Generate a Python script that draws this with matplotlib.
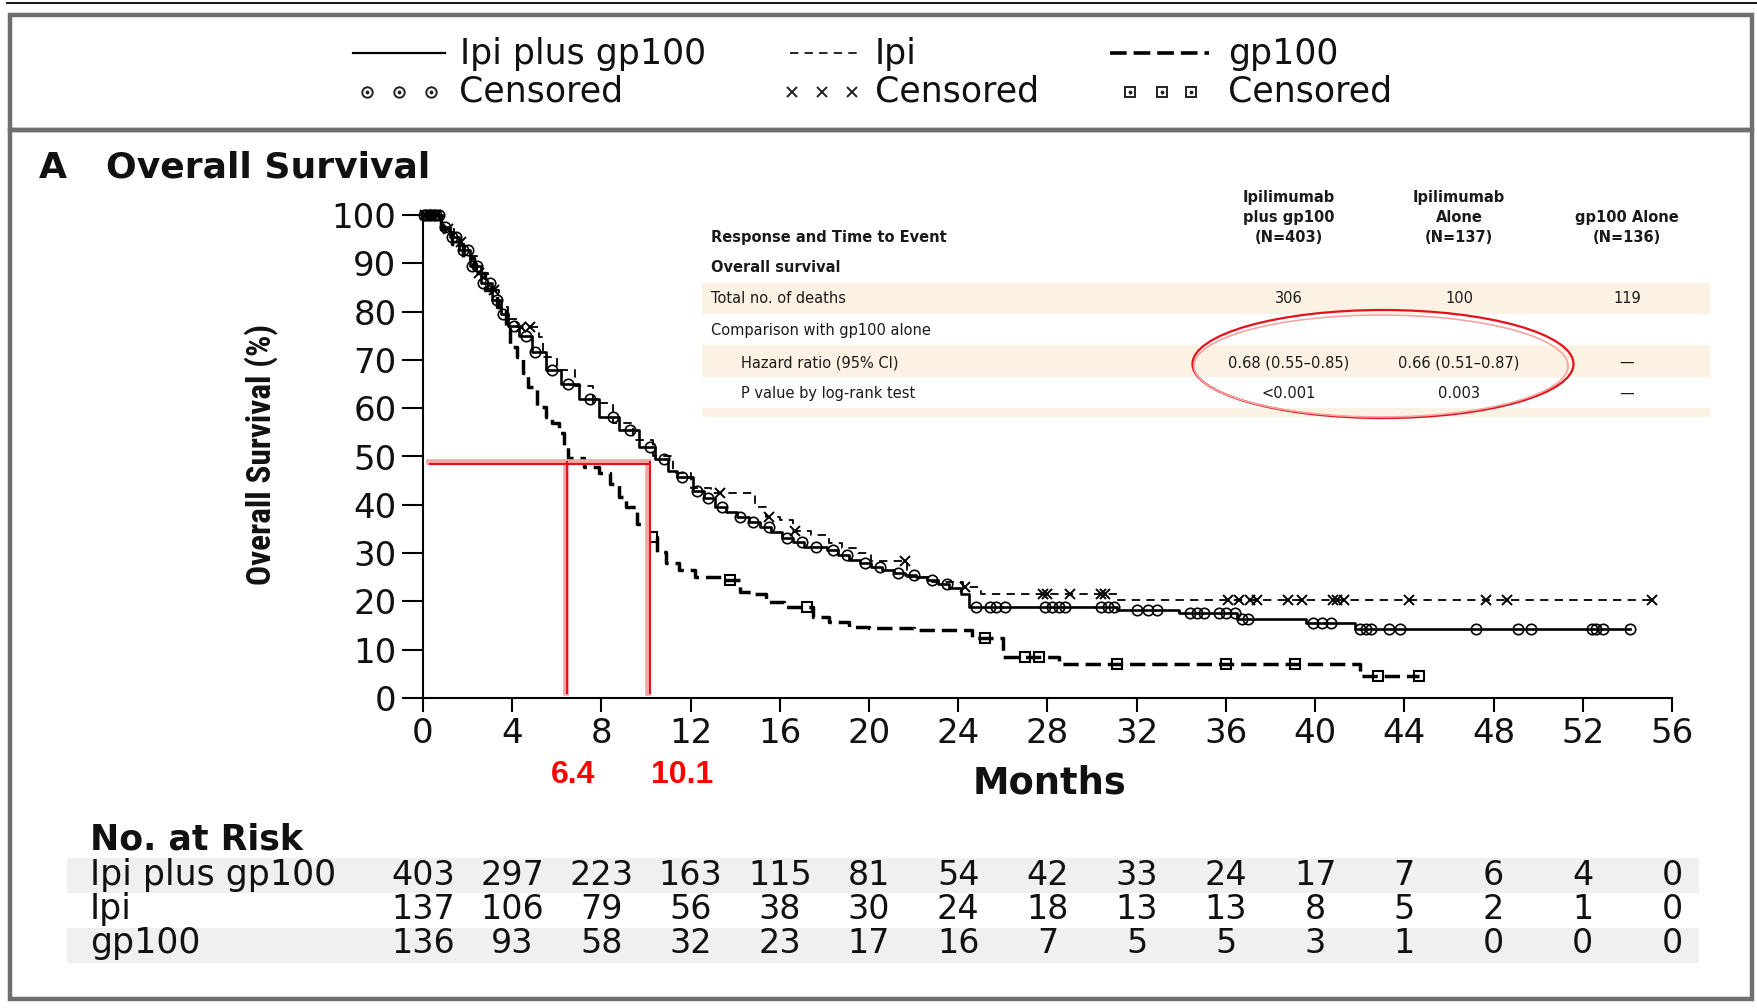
import numpy as np
import matplotlib
matplotlib.use("Agg")
import matplotlib.pyplot as plt
from matplotlib import font_manager, transforms
from matplotlib.lines import Line2D
from matplotlib.patches import Rectangle, Ellipse

W, H = 1758, 1008
plt.rcParams['lines.scale_dashes'] = False
plt.rcParams['font.family'] = 'DejaVu Sans'

# Kaplan-Meier steps: month where each level starts, survival (%) from there on
ipi_gp100_t = [0, 0.8, 1.2, 1.6, 2.1, 2.6, 3.1, 3.5, 3.8, 4.3, 4.9, 5.5, 6.2, 7.0, 7.9,
               8.8, 9.7, 10.4, 11.0, 11.4, 12.1, 12.6, 13.1, 13.6, 14.1, 14.6, 15.1,
               15.6, 16.1, 16.6, 17.1, 18.1, 18.6, 19.1, 19.6, 20.1, 20.6, 21.1, 21.6,
               22.1, 22.6, 23.1, 23.6, 24.1, 24.5, 31.1, 33.9, 36.5, 39.6, 41.8]
ipi_gp100_s = [100, 97.5, 95.5, 92.8, 89.5, 86, 82.5, 79.5, 77, 75, 71.7, 68, 65, 62, 58.2,
               55.5, 52, 49.5, 47, 45.8, 42.8, 41.5, 39.6, 38.5, 37.5, 36.5, 35.5,
               34.3, 33.1, 32.2, 31.3, 30.6, 29.6, 28.6, 27.9, 27.2, 26.5, 25.8, 25.4,
               25.1, 24.4, 23.7, 22.8, 21.6, 18.9, 18.2, 17.7, 16.4, 15.6, 14.2]
ipi_gp100_end = 54.1
ipi_gp100_cens = [0.05, 0.15, 0.25, 0.35, 0.5, 0.6, 0.7, 1.0, 1.3, 1.5, 1.8, 2.0, 2.2, 2.4,
                  2.7, 3.0, 3.3, 3.6, 4.1, 4.6, 5.0, 5.8, 6.5, 7.5, 8.5, 9.3, 10.2, 10.8,
                  11.6, 12.3, 12.8, 13.4, 14.2, 14.8, 15.5, 16.3, 17.0, 17.6, 18.4, 19.0,
                  19.8, 20.5, 21.3, 22.0, 22.8, 23.5, 24.8, 25.4, 25.7, 26.1, 27.9, 28.2,
                  28.5, 28.8, 30.4, 30.7, 31.0, 32.0, 32.5, 32.9, 34.4, 34.7, 35.0, 35.7,
                  36.0, 36.4, 36.7, 37.0, 39.9, 40.3, 40.7, 42.0, 42.3, 42.5, 43.3, 43.8,
                  47.2, 49.1, 49.7, 52.4, 52.6, 52.9, 54.1]

ipi_t = [0, 0.9, 1.4, 1.9, 2.4, 2.9, 3.4, 3.8, 4.2, 5.2, 5.4, 6.0, 6.8, 7.6, 8.5, 9.4,
         10.3, 11.2, 12.0, 12.9, 14.9, 15.4, 16.0, 16.6, 17.4, 18.2, 18.8, 19.5, 20.1,
         21.7, 22.8, 24.2, 25.0, 31.1]
ipi_s = [100, 97, 94.5, 91.5, 88, 84.5, 81, 78.5, 76.9, 74.8, 70.5, 68.0, 64.5, 61, 57,
         53.5, 50, 46.5, 43.5, 42.4, 39.6, 37.5, 36.9, 34.5, 33.8, 32.0, 31, 30, 28.3,
         25.1, 24.0, 23.0, 21.6, 20.3]
ipi_end = 55.1
ipi_cens = [0.1, 0.3, 0.6, 1.1, 1.7, 2.5, 3.2, 4.4, 4.8, 13.3, 15.5, 16.7, 21.6, 24.3,
            27.8, 28.0, 29.0, 30.4, 30.6, 36.1, 36.6, 37.1, 37.4, 38.8, 39.4, 40.8,
            41.0, 41.3, 44.2, 47.65, 48.6, 55.1]

gp100_t = [0, 0.8, 1.3, 1.8, 2.3, 2.8, 3.3, 3.7, 3.9, 4.2, 4.5, 4.7, 5.1, 5.5, 5.8, 6.1,
           6.3, 6.5, 7.2, 7.9, 8.4, 8.8, 9.1, 9.6, 10.1, 10.5, 10.9, 11.5, 12.2, 13.5,
           14.2, 14.8, 15.4, 16.2, 17.5, 18.2, 19.1, 20.0, 22.0, 24.6, 26.0, 28.5, 42.0]
gp100_s = [100, 97, 94, 91, 88, 84.5, 81, 76.5, 72.7, 70.7, 67.2, 64.4, 60.3, 58.2, 56.9,
           54.8, 52.0, 49.6, 47.9, 46.5, 44.4, 41.7, 39.6, 36.1, 33.4, 30.3, 27.9, 26.5,
           25.1, 24.4, 22.0, 21.6, 19.9, 18.9, 16.8, 15.8, 14.8, 14.4, 14.0, 12.4, 8.5,
           7.1, 4.55]
gp100_end = 44.65
gp100_cens = [10.26, 13.77, 17.2, 25.2, 27.0, 27.6, 31.1, 36.0, 39.1, 42.8, 44.65]

# median survival marked in red
median_gp100 = 6.4
median_ipi_gp100 = 10.1
median_level = 48.8

# number at risk
risk_months = list(range(0, 57, 4))
risk_ipi_gp100 = [403, 297, 223, 163, 115, 81, 54, 42, 33, 24, 17, 7, 6, 4, 0]
risk_ipi = [137, 106, 79, 56, 38, 30, 24, 18, 13, 13, 8, 5, 2, 1, 0]
risk_gp100 = [136, 93, 58, 32, 23, 17, 16, 7, 5, 5, 3, 1, 0, 0, 0]
risk_rows = ["Ipi plus gp100", "Ipi", "gp100"]

# inset table
col_heads = [["Ipilimumab", "plus gp100", "(N=403)"],
             ["Ipilimumab", "Alone", "(N=137)"],
             ["gp100 Alone", "(N=136)"]]
deaths = ["306", "100", "119"]
hazard = ["0.68 (0.55–0.85)", "0.66 (0.51–0.87)", "—"]
pvalue = ["<0.001", "0.003", "—"]


def fx(px):
    return px / W


def fy(py):
    return 1 - py / H


def level(t, s, when):
    idx = np.searchsorted(t, when, side='right') - 1
    return np.asarray(s)[idx]


installed = {f.name for f in font_manager.fontManager.ttflist}
narrow = next((f for f in ["Liberation Sans Narrow", "Roboto Condensed"] if f in installed),
              "DejaVu Sans")
narrow_size = {"Liberation Sans Narrow": 26, "Roboto Condensed": 24}.get(narrow, 17)

fig = plt.figure(figsize=(W / 100, H / 100), dpi=100)
fig.patch.set_facecolor('white')

ax = fig.add_axes([fx(423), fy(698), (1672 - 423) / W, (698 - 215) / H])
ax.set_zorder(2)
ax.patch.set_visible(False)

ink = '#111111'

curves = [
    (ipi_gp100_t, ipi_gp100_s, ipi_gp100_end, ipi_gp100_cens,
     dict(lw=1.9, ls='-'), dict(marker='o', ms=7.5, mfc='none', mew=1.2)),
    (ipi_t, ipi_s, ipi_end, ipi_cens,
     dict(lw=1.3, dashes=(6, 4.5)), dict(marker='x', ms=6.5, mew=1.4)),
    (gp100_t, gp100_s, gp100_end, gp100_cens,
     dict(lw=2.5, dashes=(11, 5)), dict(marker='s', ms=7, mfc='none', mew=1.5)),
]
for t, s, end, cens, lstyle, mstyle in curves:
    ax.step(list(t) + [end], list(s) + [s[-1]], where='post', color='black',
            clip_on=False, zorder=3, **lstyle)
    ax.plot(cens, level(t, s, cens), ls='none', color='black', mec='black',
            clip_on=False, zorder=4, **mstyle)

# red median guides: pale wide stroke with a sharper red one beside it
pink, red = '#f6a3a3', '#e3111b'
shift_r = transforms.offset_copy(ax.transData, fig=fig, x=1.5, y=0, units='dots')
shift_d = transforms.offset_copy(ax.transData, fig=fig, x=0, y=-2, units='dots')
ax.plot([0.25, median_ipi_gp100], [median_level] * 2, color=pink, lw=4, zorder=5, clip_on=False)
ax.plot([0.3, median_ipi_gp100], [median_level] * 2, color=red, lw=1.5, zorder=6,
        transform=shift_d, clip_on=False)
for m in (median_gp100, median_ipi_gp100):
    ax.plot([m, m], [1.0, median_level], color=pink, lw=4, zorder=5)
    ax.plot([m, m], [1.0, median_level], color=red, lw=1.5, zorder=6, transform=shift_r)

ax.set_xlim(0, 56)
ax.set_ylim(0, 100)
ax.set_xticks(risk_months)
ax.set_yticks(range(0, 101, 10))
for side in ('top', 'right'):
    ax.spines[side].set_visible(False)
for side in ('left', 'bottom'):
    ax.spines[side].set_linewidth(1.5)
ax.tick_params(axis='y', length=15, width=1.5, pad=4, labelsize=24.5, labelcolor=ink)
ax.tick_params(axis='x', length=10, width=1.5, pad=4, labelsize=24.5, labelcolor=ink)

# outer frames
fig.add_artist(Line2D([fx(7), 1], [fy(3)] * 2, color='black', lw=1.3))
fig.add_artist(Rectangle((fx(10), fy(130)), fx(1752) - fx(10), fy(15) - fy(130),
                         fill=False, ec='#6f6f6f', lw=3.2, transform=fig.transFigure))
fig.add_artist(Rectangle((fx(10), fy(999)), fx(1752) - fx(10), fy(130) - fy(999),
                         fill=False, ec='#6f6f6f', lw=3.2, transform=fig.transFigure))

# key
fig.add_artist(Line2D([fx(353), fx(445)], [fy(53)] * 2, color='black', lw=1.6))
fig.add_artist(Line2D([fx(790), fx(860)], [fy(53)] * 2, color='black', lw=1.2, dashes=(6, 4.5)))
fig.add_artist(Line2D([fx(1110), fx(1209)], [fy(53)] * 2, color='black', lw=2.6, dashes=(12, 5)))
for xs, mk, extra in (([367, 399, 431], 'o', True), ([792, 822, 852], 'x', False),
                      ([1130, 1162, 1191], 's', True)):
    fig.add_artist(Line2D([fx(v) for v in xs], [fy(92)] * 3, ls='none', marker=mk, ms=7.5,
                          mfc='none', mec='#222222', mew=1.4))
    if extra:
        fig.add_artist(Line2D([fx(v) for v in xs], [fy(92)] * 3, ls='none', marker='.',
                              ms=3.5, color='#222222'))
key_font = dict(fontsize=25, color=ink, va='baseline', ha='left')
fig.text(fx(460), fy(64), "Ipi plus gp100", **key_font)
fig.text(fx(875), fy(64), "Ipi", **key_font)
fig.text(fx(1228), fy(64), "gp100", **key_font)
for xk in (459, 875, 1228):
    fig.text(fx(xk), fy(102), "Censored", **key_font)

# panel title and axis labels
fig.text(fx(39), fy(178), "A", fontsize=26, fontweight='bold', color=ink, va='baseline')
fig.text(fx(106), fy(178), "Overall Survival", fontsize=26, fontweight='bold', color=ink,
         va='baseline')
fig.text(fx(261), fy(454), "Overall Survival (%)", rotation=90, ha='center', va='center',
         fontsize=narrow_size, fontweight='bold', family=narrow, color=ink)
fig.text(fx(1049), fy(793), "Months", fontsize=26.5, fontweight='bold', color=ink,
         ha='center', va='baseline')

red_font = dict(fontsize=23, fontweight='bold', color='#ff0000', ha='center',
                va='baseline', family=['Liberation Sans', 'DejaVu Sans'])
fig.text(fx(573), fy(783), f"{median_gp100:.1f}", **red_font)
fig.text(fx(682), fy(783), f"{median_ipi_gp100:.1f}", **red_font)

# inset results table
band = '#fcf2e3'
for top, bottom in ((283, 314), (345, 377), (408, 417)):
    fig.add_artist(Rectangle((fx(702), fy(bottom)), fx(1710) - fx(702), fy(top) - fy(bottom),
                             color=band, lw=0, transform=fig.transFigure, zorder=1))
tbl = dict(fontsize=10.5, color='#1a1a1a', va='baseline')
col_x = [1289, 1459, 1627]
for cx, lines in zip(col_x, col_heads):
    for k, line in enumerate(reversed(lines)):
        fig.text(fx(cx), fy(242 - 20 * k), line, ha='center', fontweight='bold', **tbl)
fig.text(fx(711), fy(242), "Response and Time to Event", fontweight='bold', **tbl)
fig.text(fx(711), fy(272), "Overall survival", fontweight='bold', **tbl)
fig.text(fx(711), fy(303), "Total no. of deaths", **tbl)
fig.text(fx(711), fy(335), "Comparison with gp100 alone", **tbl)
fig.text(fx(741), fy(367), "Hazard ratio (95% CI)", **tbl)
fig.text(fx(741), fy(398), "P value by log-rank test", **tbl)
for cx, d, hz, p in zip(col_x, deaths, hazard, pvalue):
    fig.text(fx(cx), fy(303), d, ha='center', **tbl)
    fig.text(fx(cx), fy(367), hz, ha='center', **tbl)
    fig.text(fx(cx), fy(398), p, ha='center', **tbl)

fig.add_artist(Ellipse((fx(1383), fy(364)), 381 / W, 108 / H, fill=False, ec=red, lw=1.6,
                       transform=fig.transFigure, zorder=4))
fig.add_artist(Ellipse((fx(1381), fy(366)), 374 / W, 102 / H, fill=False, ec=pink, lw=1.2,
                       transform=fig.transFigure, zorder=4))

# number at risk
fig.text(fx(90), fy(850), "No. at Risk", fontsize=25, fontweight='bold', color=ink,
         va='baseline')
for top, bottom in ((858, 893), (928, 963)):
    fig.add_artist(Rectangle((fx(67), fy(bottom)), fx(1699) - fx(67), fy(top) - fy(bottom),
                             color='#f0f0f0', lw=0, transform=fig.transFigure, zorder=1))
risk_trans = transforms.blended_transform_factory(ax.transData, fig.transFigure)
for base, name, counts in zip((885, 919, 953), risk_rows,
                              (risk_ipi_gp100, risk_ipi, risk_gp100)):
    fig.text(fx(90), fy(base), name, fontsize=25, color=ink, va='baseline')
    for m, n in zip(risk_months, counts):
        ax.text(m, fy(base), str(n), transform=risk_trans, fontsize=24, color=ink,
                ha='center', va='baseline', clip_on=False)

fig.savefig("out.png", dpi=100)
